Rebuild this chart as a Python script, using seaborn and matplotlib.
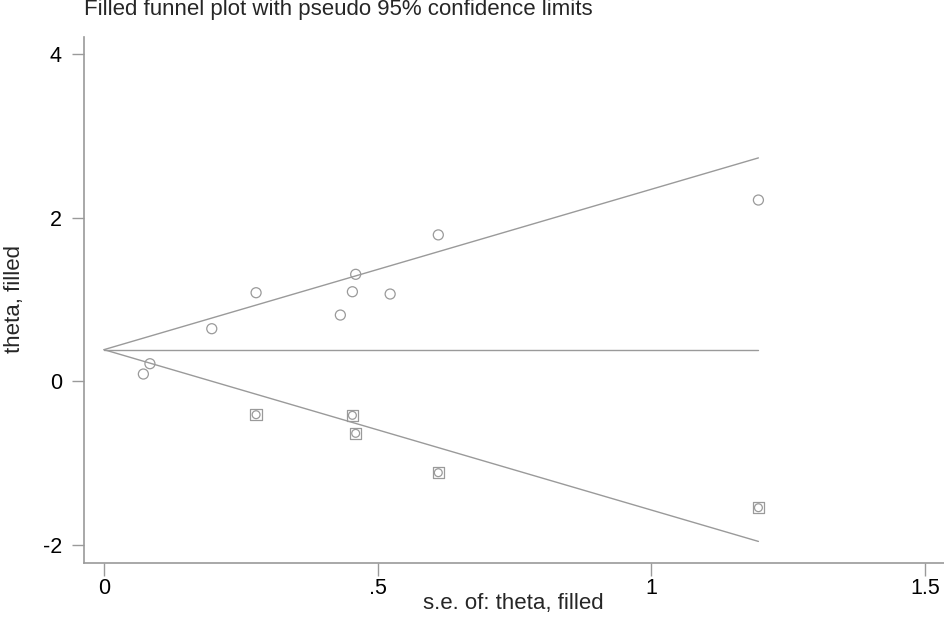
import numpy as np
import pandas as pd
import matplotlib
matplotlib.use("Agg")
import matplotlib.pyplot as plt
import seaborn as sns

# observed studies (se, theta)
obs_se = [0.072, 0.084, 0.197, 0.278, 0.432, 0.454, 0.460, 0.523, 0.611, 1.196]
obs_theta = [0.089, 0.215, 0.643, 1.083, 0.810, 1.095, 1.308, 1.067, 1.790, 2.216]

# imputed (filled) studies
fill_se = [0.278, 0.454, 0.460, 0.611, 1.196]
fill_theta = [-0.408, -0.416, -0.636, -1.117, -1.545]

# pooled estimate and max se for the funnel
theta_pool = 0.387
se_max = 1.196

x_ticks = [0, 0.5, 1, 1.5]
x_tick_labels = ["0", ".5", "1", "1.5"]
y_ticks = [-2, 0, 2, 4]

sns.set_style("white")
plt.rcParams["font.family"] = ["Liberation Sans", "DejaVu Sans"]
plt.rcParams["axes.unicode_minus"] = False

gray = "#9a9a9a"

obs = pd.DataFrame({"se": obs_se, "theta": obs_theta})
filled = pd.DataFrame({"se": fill_se, "theta": fill_theta})

se_line = np.array([0, se_max])
funnel = pd.DataFrame({
    "se": np.tile(se_line, 3),
    "theta": np.concatenate([
        theta_pool + 1.96 * se_line,
        np.full(2, theta_pool),
        theta_pool - 1.96 * se_line,
    ]),
    "line": np.repeat(["upper", "mid", "lower"], 2),
})

fig = plt.figure(figsize=(9.45, 6.19), dpi=100)
ax = fig.add_axes([84 / 945, 56 / 619, 1 - 84 / 945, (563 - 37) / 619])

sns.lineplot(data=funnel, x="se", y="theta", units="line", estimator=None,
             color=gray, linewidth=1.0, ax=ax, legend=False)

# filled studies: square with a small circle inside
sns.scatterplot(data=filled, x="se", y="theta", marker="s", s=68,
                facecolor="none", edgecolor=gray, linewidth=0.9, ax=ax)
sns.scatterplot(data=filled, x="se", y="theta", marker="o", s=32,
                facecolor="none", edgecolor=gray, linewidth=0.9, ax=ax)
sns.scatterplot(data=obs, x="se", y="theta", marker="o", s=52,
                facecolor="none", edgecolor=gray, linewidth=0.9, ax=ax)

ax.set_xlim(-0.0365, 1.537)
ax.set_ylim(-2.221, 4.209)
ax.set_xticks(x_ticks)
ax.set_xticklabels(x_tick_labels)
ax.set_yticks(y_ticks)
ax.tick_params(axis="both", direction="out", length=9, width=1, color=gray,
               labelsize=15.5, labelcolor="black", bottom=True, left=True)
ax.tick_params(axis="x", pad=2)
ax.tick_params(axis="y", pad=7)

for side in ["top", "right"]:
    ax.spines[side].set_visible(False)
for side in ["left", "bottom"]:
    ax.spines[side].set_color(gray)
    ax.spines[side].set_linewidth(1.2)

ax.set_xlabel("s.e. of: theta, filled", fontsize=16)
ax.set_ylabel("theta, filled", fontsize=16)
ax.xaxis.set_label_coords((513 - 84) / 861, (563 - 593) / 526)
ax.yaxis.set_label_coords((25 - 84) / 861, (563 - 299) / 526)

fig.text(84 / 945, 1 - 9 / 619, "Filled funnel plot with pseudo 95% confidence limits",
         fontsize=16, va="center", ha="left")

fig.savefig("out.png", dpi=100)
